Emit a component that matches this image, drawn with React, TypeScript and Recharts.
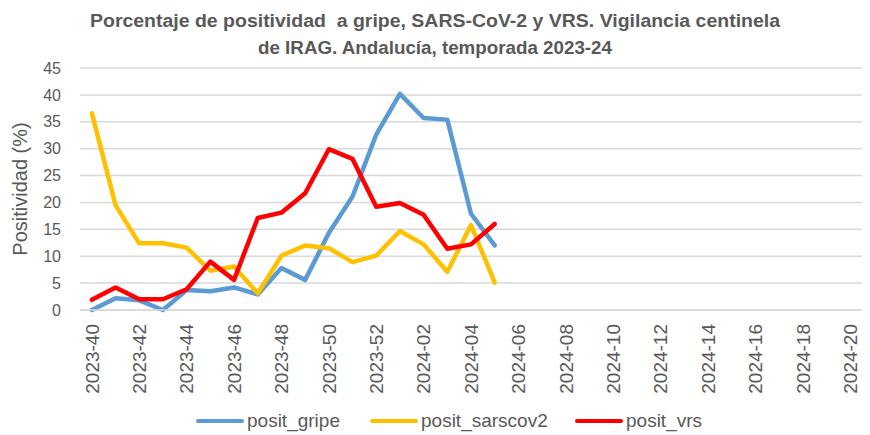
import React from "react";
import { CartesianGrid, Legend, Line, LineChart, XAxis, YAxis } from "recharts";

const weeks = [
  "2023-40", "2023-41", "2023-42", "2023-43", "2023-44", "2023-45", "2023-46",
  "2023-47", "2023-48", "2023-49", "2023-50", "2023-51", "2023-52",
  "2024-01", "2024-02", "2024-03", "2024-04", "2024-05", "2024-06", "2024-07",
  "2024-08", "2024-09", "2024-10", "2024-11", "2024-12", "2024-13", "2024-14",
  "2024-15", "2024-16", "2024-17", "2024-18", "2024-19", "2024-20",
];

// weekly positivity (%), season stops at 2024-05
const positGripe = [0, 2.2, 1.8, 0, 3.7, 3.5, 4.2, 2.9, 7.8, 5.6, 14.3, 21.1, 32.6, 40.2, 35.7, 35.4, 17.9, 12.0];
const positSarscov2 = [36.6, 19.5, 12.4, 12.4, 11.6, 7.3, 8.1, 3.1, 10.1, 12.0, 11.5, 8.9, 10.1, 14.7, 12.2, 7.1, 15.8, 5.1];
const positVrs = [1.9, 4.2, 2.0, 2.0, 3.85, 9.0, 5.6, 17.1, 18.1, 21.7, 29.9, 28.1, 19.2, 19.9, 17.7, 11.4, 12.2, 16.0];

const yTicks = [0, 5, 10, 15, 20, 25, 30, 35, 40, 45];

const data = weeks.map((week, i) => ({
  week,
  posit_gripe: i < positGripe.length ? positGripe[i] : null,
  posit_sarscov2: i < positSarscov2.length ? positSarscov2[i] : null,
  posit_vrs: i < positVrs.length ? positVrs[i] : null,
}));

const grey = "#595959";
const font = "'Liberation Sans', Arial, sans-serif";

// legend slot widths, like Excel spaces them
const legendSlots = [174, 205, 130];

function WeekTick({ x, y, payload }: any) {
  return (
    <text
      transform={`translate(${x},${y}) rotate(-90)`}
      textAnchor="end"
      dy="0.36em"
      fontSize={19}
      fontFamily={font}
      fill={grey}
    >
      {payload.value}
    </text>
  );
}

function LegendContent({ payload }: any) {
  return (
    <div style={{ display: "flex", paddingLeft: 196, paddingTop: 20, fontFamily: font }}>
      {(payload || []).map((p: any, i: number) => (
        <div key={p.value} style={{ display: "flex", alignItems: "center", width: legendSlots[i], height: 22 }}>
          <div style={{ width: 48, height: 4, borderRadius: 2, background: p.color, marginRight: 3 }} />
          <span style={{ fontSize: 19, color: grey }}>{p.value}</span>
        </div>
      ))}
    </div>
  );
}

export default function App() {
  return (
    <div style={{ position: "absolute", left: 0, top: 0, width: 870, height: 435, background: "#fff" }}>
      <svg width={870} height={64} style={{ position: "absolute", left: 0, top: 0 }}>
        <text x={435} y={27} textAnchor="middle" fontSize={18} fontWeight="bold" fontFamily={font} fill={grey}
          textLength={690} lengthAdjust="spacingAndGlyphs" style={{ whiteSpace: "pre" }}>
          Porcentaje de positividad  a gripe, SARS-CoV-2 y VRS. Vigilancia centinela
        </text>
        <text x={435} y={54} textAnchor="middle" fontSize={18} fontWeight="bold" fontFamily={font} fill={grey}
          textLength={354} lengthAdjust="spacingAndGlyphs">
          de IRAG. Andalucía, temporada 2023-24
        </text>
      </svg>
      <LineChart
        width={870}
        height={435}
        data={data}
        margin={{ top: 68, right: 8, bottom: 0, left: 0 }}
      >
        <CartesianGrid vertical={false} stroke="#d9d9d9" strokeWidth={1.5} />
        <XAxis
          dataKey="week"
          interval={1}
          height={80}
          tickLine={false}
          tickSize={0}
          tickMargin={14}
          stroke="#d9d9d9"
          strokeWidth={1.5}
          padding={{ left: 11.85, right: 11.85 }}
          tick={<WeekTick />}
        />
        <YAxis
          width={80}
          domain={[0, 45]}
          ticks={yTicks}
          axisLine={false}
          tickLine={false}
          tickSize={0}
          tickMargin={19}
          tick={{ fontSize: 16, fill: grey, fontFamily: font }}
          label={({ viewBox }: any) => (
            <text
              x={viewBox.x + 27}
              y={viewBox.y + viewBox.height / 2}
              transform={`rotate(-90, ${viewBox.x + 27}, ${viewBox.y + viewBox.height / 2})`}
              textAnchor="middle"
              fontSize={20}
              fontFamily={font}
              fill={grey}
            >
              Positividad (%)
            </text>
          )}
        />
        <Legend verticalAlign="bottom" height={45} wrapperStyle={{ left: 0, width: 870 }} content={<LegendContent />} />
        <Line type="linear" dataKey="posit_gripe" name="posit_gripe" stroke="#5B9BD5" strokeWidth={4.5}
          dot={false} strokeLinejoin="round" strokeLinecap="round" isAnimationActive={false} />
        <Line type="linear" dataKey="posit_sarscov2" name="posit_sarscov2" stroke="#FFC000" strokeWidth={4.5}
          dot={false} strokeLinejoin="round" strokeLinecap="round" isAnimationActive={false} />
        <Line type="linear" dataKey="posit_vrs" name="posit_vrs" stroke="#FF0000" strokeWidth={4.5}
          dot={false} strokeLinejoin="round" strokeLinecap="round" isAnimationActive={false} />
      </LineChart>
    </div>
  );
}
